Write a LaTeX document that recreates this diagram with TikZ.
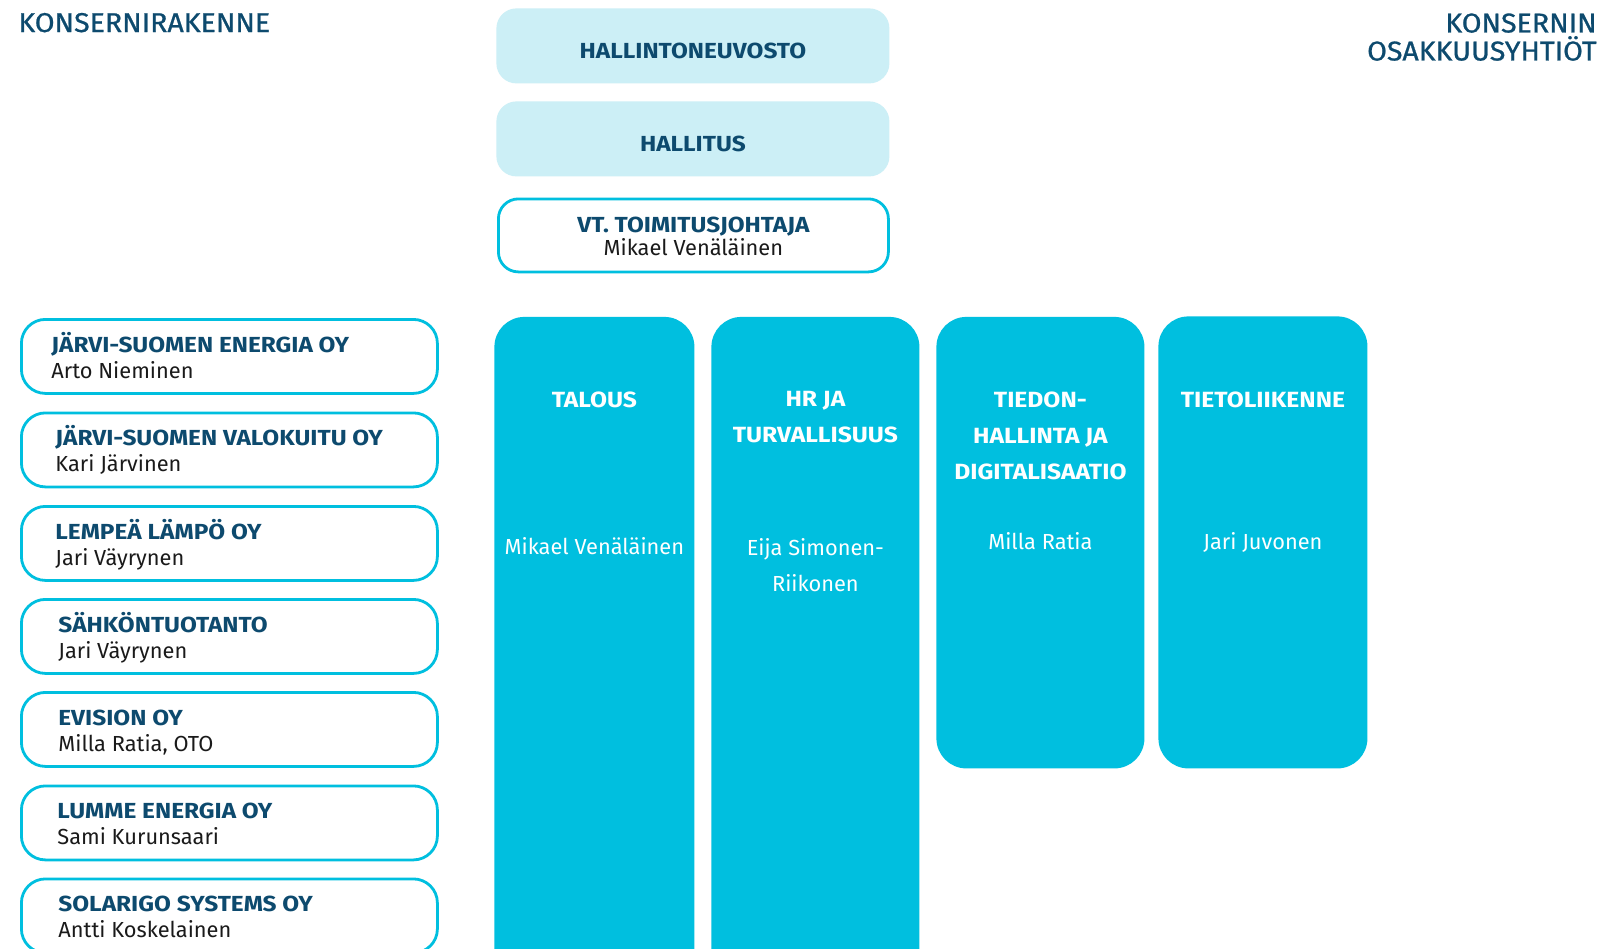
\documentclass[tikz,border=0pt]{standalone}
\usepackage{fontspec}
\setmainfont{Fira Sans}
\newfontfamily\headfont[FakeStretch=1.12]{Fira Sans}
\newfontfamily\titlefont[FakeStretch=1.05,FakeBold=0.8]{Fira Sans}
\usetikzlibrary{calc}
\definecolor{navy}{HTML}{0D4A6E}
\definecolor{cyanc}{HTML}{00BFDF}
\definecolor{lightc}{HTML}{CCEFF6}
\definecolor{namec}{HTML}{1A1A1A}
\tikzset{
  pic/.style={x=0.5pt,y=-0.5pt},
  topbox/.style={fill=lightc, draw=none, rounded corners=10pt, minimum width=196.5pt, minimum height=37.5pt, anchor=north west, inner sep=0pt},
  vtbox/.style={fill=white, draw=cyanc, line width=1.4pt, rounded corners=10pt, minimum width=195pt, minimum height=36.5pt, anchor=north west, inner sep=0pt},
  cobox/.style={fill=white, draw=cyanc, line width=1.4pt, rounded corners=12pt, minimum width=208pt, minimum height=37pt, anchor=north west, inner sep=0pt},
  colbox/.style={fill=cyanc, draw=none, rounded corners=15pt, anchor=north west, inner sep=0pt},
  title/.style={inner sep=0pt, text=navy, font=\titlefont\fontsize{13.6pt}{14pt}\selectfont},
  head/.style={inner sep=0pt, anchor=base, text=navy, font=\headfont\bfseries\fontsize{10.9pt}{13pt}\selectfont},
  cohead/.style={inner sep=0pt, anchor=base west, text=navy, font=\headfont\bfseries\fontsize{10.9pt}{13pt}\selectfont},
  coname/.style={inner sep=0pt, anchor=base west, text=namec, font=\fontsize{10.9pt}{13pt}\selectfont},
  vtname/.style={inner sep=0pt, anchor=base, text=namec, font=\fontsize{10.9pt}{13pt}\selectfont},
  colhead/.style={inner sep=0pt, anchor=base, text=white, align=center, font=\headfont\bfseries\fontsize{11pt}{18pt}\selectfont},
  colname/.style={inner sep=0pt, anchor=base, text=white, align=center, font=\fontsize{10.9pt}{18pt}\selectfont},
}
\begin{document}
\begin{tikzpicture}[pic]
\clip (0,0) rectangle (1604,948);
\fill[white] (0,0) rectangle (1604,948);

% titles
\node[title, anchor=base west] (t1) at (18,32) {KONSERNIRAKENNE};
\node[title, anchor=north east, align=right] (t2) at (1597,13) {KONSERNIN\\OSAKKUUSYHTIÖT};

% top boxes
\node[topbox] (hn) at (496,8) {};
\node[head] (hnt) at ($(hn.north)+(0,50)$) {HALLINTONEUVOSTO};
\node[topbox] (hs) at (496,101) {};
\node[head] (hst) at ($(hs.north)+(0,50.5)$) {HALLITUS};
\node[vtbox] (vt) at (497,197.5) {};
\node[head] (vtt) at ($(vt.north)+(0,35)$) {VT. TOIMITUSJOHTAJA};
\node[vtname] (vtn) at ($(vt.north)+(0,57.5)$) {Mikael Venäläinen};

% company boxes
\foreach \i/\y/\tx/\h/\n in {
  1/318/51/JÄRVI-SUOMEN ENERGIA OY/Arto Nieminen,
  2/411.5/55/JÄRVI-SUOMEN VALOKUITU OY/Kari Järvinen,
  3/505/55/LEMPEÄ LÄMPÖ OY/Jari Väyrynen,
  4/598/58/SÄHKÖNTUOTANTO/Jari Väyrynen,
  5/691/58/EVISION OY/{Milla Ratia, OTO},
  6/784.5/57/LUMME ENERGIA OY/Sami Kurunsaari,
  7/877.5/58/SOLARIGO SYSTEMS OY/Antti Koskelainen}{
  \node[cobox] (co\i) at (20,\y) {};
  \node[cohead] (coh\i) at (\tx,\y+34) {\h};
  \node[coname] (con\i) at (\tx,\y+60) {\n};
}

% department columns
\node[colbox, minimum width=100pt, minimum height=350pt] (c1) at (494,316.5) {};
\node[colbox, minimum width=104pt, minimum height=350pt] (c2) at (711,316.5) {};
\node[colbox, minimum width=104pt, minimum height=225.75pt] (c3) at (936,316.5) {};
\node[colbox, minimum width=104.5pt, minimum height=226pt] (c4) at (1158,316) {};

\node[colhead, anchor=base] (c1h) at (c1.north |- 0,407) {TALOUS};
\node[colname] (c1n) at (c1.north |- 0,554) {Mikael Venäläinen};
\node[colhead, anchor=north] (c2h) at (c2.north |- 0,391) {HR JA\\TURVALLISUUS};
\node[colname, anchor=north] (c2n) at (c2.north |- 0,538) {Eija Simonen-\\Riikonen};
\node[colhead, anchor=north] (c3h) at (c3.north |- 0,391) {TIEDON-\\HALLINTA JA\\DIGITALISAATIO};
\node[colname] (c3n) at (c3.north |- 0,549) {Milla Ratia};
\node[colhead] (c4h) at (c4.north |- 0,407) {TIETOLIIKENNE};
\node[colname] (c4n) at (c4.north |- 0,549) {Jari Juvonen};
\end{tikzpicture}
\end{document}
